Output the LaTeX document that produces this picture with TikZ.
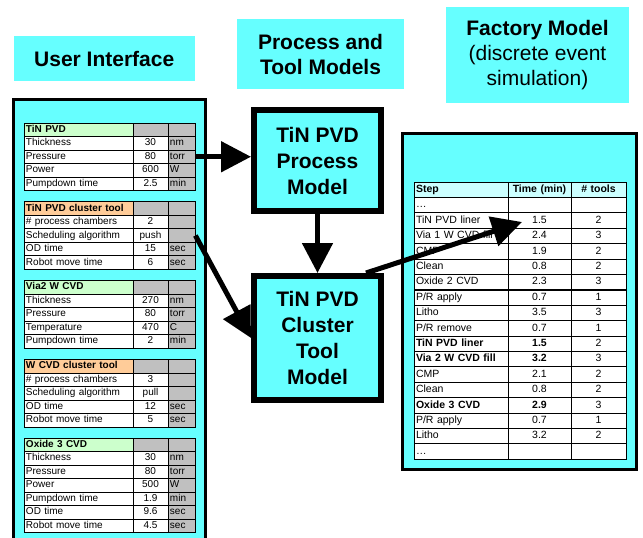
\documentclass[tikz,border=0pt]{standalone}
\usepackage{fontspec}
\setmainfont{Liberation Sans}
\usetikzlibrary{arrows.meta,matrix,positioning}

\definecolor{panelcyan}{RGB}{102,255,255}
\definecolor{procgreen}{RGB}{204,255,204}
\definecolor{toolorange}{RGB}{255,204,153}
\definecolor{unitgray}{RGB}{192,192,192}
\definecolor{headcyan}{RGB}{204,255,255}

\begin{document}
\begin{tikzpicture}[
        x=1pt, y=-1pt,
        node distance=10.5pt,
        title/.style={fill=panelcyan, align=center, font=\fontsize{21}{25}\selectfont\bfseries},
        model/.style={draw, line width=6pt, fill=panelcyan, align=center, minimum width=127pt, font=\fontsize{21}{26}\selectfont\bfseries},
        panel/.style={draw, line width=3pt, fill=panelcyan, anchor=north west},
        link/.style={line width=5pt, -{Triangle[length=30pt,width=30pt]}},
        uitable/.style={matrix of nodes, nodes in empty cells, inner sep=0pt, outer sep=0pt,
            column sep=-0.8pt, row sep=-0.8pt,
            nodes={draw, fill=white, line width=0.8pt, inner xsep=2pt, inner ysep=1.75pt,
                text height=7.5pt, text depth=2.5pt, font=\fontsize{10}{12}\selectfont},
            column 1/.style={nodes={text width=105pt, align=left}},
            column 2/.style={nodes={text width=31pt, align=center}},
            column 3/.style={nodes={text width=23pt, align=left, fill=unitgray}},
            row 1/.style={nodes={fill=unitgray, font=\fontsize{10}{12}\selectfont\bfseries}}},
        processtab/.style={uitable, row 1 column 1/.style={nodes={fill=procgreen}}},
        tooltab/.style={uitable, row 1 column 1/.style={nodes={fill=toolorange}}},
        factab/.style={matrix of nodes, nodes in empty cells, inner sep=0pt, outer sep=0pt,
            column sep=-0.8pt, row sep=-0.8pt,
            nodes={draw, fill=white, line width=0.8pt, inner xsep=2pt, inner ysep=2.3pt,
                text height=8.2pt, text depth=2.6pt, font=\fontsize{10.5}{12}\selectfont},
            column 1/.style={nodes={text width=90pt, align=left}},
            column 2/.style={nodes={text width=59pt, align=center}},
            column 3/.style={nodes={text width=51pt, align=center}},
            row 1/.style={nodes={fill=headcyan, font=\fontsize{10.5}{12}\selectfont\bfseries}}}
    ]

    \useasboundingbox (0,0) rectangle (643,538);

    % Titles
    \node[title, minimum width=181.5pt, minimum height=45pt] (uititle) at (104.25,58.5) {User Interface};
    \node[title, minimum width=167pt, minimum height=70pt] (modtitle) at (320.5,54) {Process and\\Tool Models};
    \node[title, font=\fontsize{21}{25}\selectfont, minimum width=183pt, minimum height=96pt] (factitle) at (537.5,55)
        {\textbf{Factory Model}\\(discrete event\\simulation)};

    % Panels
    \node[panel, minimum width=192pt, minimum height=450pt] (uipanel) at (12,98) {};
    \node[panel, minimum width=234pt, minimum height=336pt] (facpanel) at (401,132) {};

    % User interface tables
    \matrix (tinpvd) [processtab, anchor=north west] at (23.6,122.6) {
        TiN PVD & & \\
        Thickness & 30 & nm \\
        Pressure & 80 & torr \\
        Power & 600 & W \\
        Pumpdown time & 2.5 & min \\
    };
    \matrix (tinclus) [tooltab, below=of tinpvd] {
        TiN PVD cluster tool & & \\
        \# process chambers & 2 & \\
        Scheduling algorithm & push & \\
        OD time & 15 & sec \\
        Robot move time & 6 & sec \\
    };
    \matrix (viacvd) [processtab, below=of tinclus] {
        Via2 W CVD & & \\
        Thickness & 270 & nm \\
        Pressure & 80 & torr \\
        Temperature & 470 & C \\
        Pumpdown time & 2 & min \\
    };
    \matrix (wclus) [tooltab, below=of viacvd] {
        W CVD cluster tool & & \\
        \# process chambers & 3 & \\
        Scheduling algorithm & pull & \\
        OD time & 12 & sec \\
        Robot move time & 5 & sec \\
    };
    \matrix (oxcvd) [processtab, below=of wclus] {
        Oxide 3 CVD & & \\
        Thickness & 30 & nm \\
        Pressure & 80 & torr \\
        Power & 500 & W \\
        Pumpdown time & 1.9 & min \\
        OD time & 9.6 & sec \\
        Robot move time & 4.5 & sec \\
    };

    % Models
    \node[model, minimum height=101pt] (procmodel) at (317.5,160.5) {TiN PVD\\Process\\Model};
    \node[model, minimum height=124pt, below=59pt of procmodel] (clustmodel) {TiN PVD\\Cluster\\Tool\\Model};

    % Factory table
    \matrix (steps) [factab, anchor=north west] at (413.6,181.6) {
        Step & Time (min) & \# tools \\
        \ldots & & \\
        TiN PVD liner & 1.5 & 2 \\
        Via 1 W CVD fill & 2.4 & 3 \\
        CMP & 1.9 & 2 \\
        Clean & 0.8 & 2 \\
        Oxide 2 CVD & 2.3 & 3 \\
        P/R apply & 0.7 & 1 \\
        Litho & 3.5 & 3 \\
        P/R remove & 0.7 & 1 \\
        \textbf{TiN PVD liner} & \textbf{1.5} & 2 \\
        \textbf{Via 2 W CVD fill} & \textbf{3.2} & 3 \\
        CMP & 2.1 & 2 \\
        Clean & 0.8 & 2 \\
        \textbf{Oxide 3 CVD} & \textbf{2.9} & 3 \\
        P/R apply & 0.7 & 1 \\
        Litho & 3.2 & 2 \\
        \ldots & & \\
    };
    \draw[line width=1.6pt] (steps-7-1.south west) -- (steps-7-3.south east);

    % Edges
    \draw[link] (tinpvd.east) -- (tinpvd.east -| procmodel.west);
    \draw[link] (procmodel) -- (clustmodel);
    \draw[link] (tinclus.east) -- (clustmodel.west);
    \draw[link] ([xshift=-18pt]clustmodel.north east) -- ([shift={(14,1.5)}]steps-3-2.west);

\end{tikzpicture}
\end{document}
